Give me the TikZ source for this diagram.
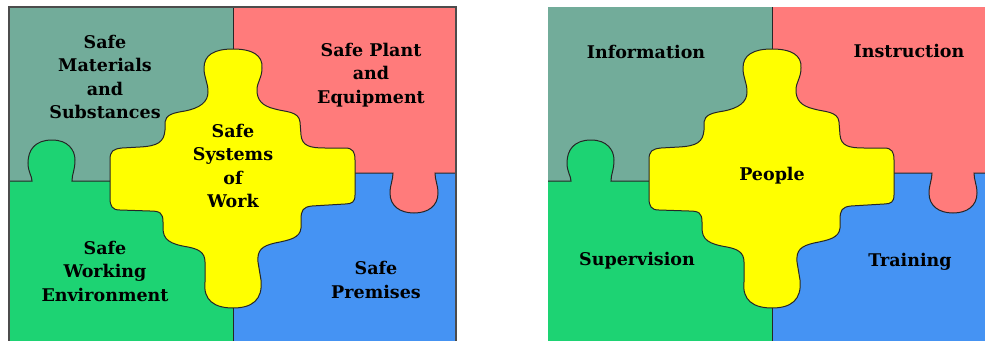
\documentclass[tikz,border=0pt]{standalone}
\usepackage{fontspec}
\setmainfont{DejaVu Serif}
\usepackage{tikz}
\usepackage{xcolor}

\definecolor{matgray}{RGB}{114,172,154}
\definecolor{plantpink}{RGB}{255,123,123}
\definecolor{envgreen}{RGB}{29,211,115}
\definecolor{premblue}{RGB}{69,147,243}
\definecolor{workyellow}{RGB}{255,255,0}

% one board of four pieces round the yellow cross
\newcommand{\jigsaw}{%
    \fill[matgray] (9,7) rectangle (233,181);
    \fill[plantpink] (233,7) rectangle (456,173);
    \fill[envgreen] (9,181) rectangle (233,341);
    \fill[premblue] (233,173) rectangle (456,341);
    \fill[envgreen] (32,182) .. controls (32,176) and (28,172) .. (28,163)
        .. controls (28,150) and (35,140) .. (52,140)
        .. controls (68,140) and (75,150) .. (75,160)
        .. controls (75,170) and (72,174) .. (72,182) -- cycle;
    \fill[plantpink] (393,172) .. controls (393,180) and (390,185) .. (390,193)
        .. controls (390,206) and (400,213) .. (414,213)
        .. controls (428,213) and (438,206) .. (438,193)
        .. controls (438,185) and (435,180) .. (435,172) -- cycle;
    \draw[seam] (9,181) -- (32,181) .. controls (32,176) and (28,172) .. (28,163)
        .. controls (28,150) and (35,140) .. (52,140)
        .. controls (68,140) and (75,150) .. (75,160)
        .. controls (75,170) and (72,174) .. (72,181) -- (233,181);
    \draw[seam] (233,173) -- (393,173) .. controls (393,180) and (390,185) .. (390,193)
        .. controls (390,206) and (400,213) .. (414,213)
        .. controls (428,213) and (438,206) .. (438,193)
        .. controls (438,185) and (435,180) .. (435,173) -- (456,173);
    \draw[seam] (233,7) -- (233,341);
    \filldraw[seam, fill=workyellow] (233,49) .. controls (252,49) and (263,55) .. (262,68)
        .. controls (262,78) and (257,82) .. (257,90)
        .. controls (257,100) and (262,106) .. (275,109)
        .. controls (285,112) and (299,111) .. (300,122)
        -- (301,135) .. controls (302,146) and (310,148) .. (325,148)
        -- (345,148) .. controls (353,148) and (355,152) .. (355,160)
        -- (355,195) .. controls (355,202) and (352,204) .. (345,204)
        -- (312,206) .. controls (303,207) and (301,210) .. (301,220)
        -- (301,228) .. controls (300,238) and (290,240) .. (275,243)
        .. controls (262,246) and (257,250) .. (258,262)
        -- (261,280) .. controls (263,300) and (252,308) .. (233,308)
        .. controls (214,308) and (203,300) .. (205,282)
        -- (205,262) .. controls (205,252) and (198,249) .. (188,247)
        .. controls (170,244) and (163,240) .. (163,228)
        -- (163,222) .. controls (163,213) and (160,211) .. (150,211)
        -- (120,210) .. controls (112,210) and (110,206) .. (110,198)
        -- (110,160) .. controls (110,151) and (113,149) .. (122,148)
        -- (140,147) .. controls (158,146) and (164,142) .. (165,130)
        -- (165,122) .. controls (166,115) and (172,113) .. (185,111)
        .. controls (200,108) and (208,102) .. (208,92)
        .. controls (208,82) and (204,78) .. (204,68)
        .. controls (204,55) and (214,49) .. (233,49) -- cycle;
}

\begin{document}
\begin{tikzpicture}[x=1pt, y=-1pt,
    seam/.style={draw=black!85, line width=1pt},
    piecetext/.style={font=\rmfamily\fontsize{17.5}{23.5}\selectfont\bfseries, align=center, inner sep=0pt}]
    \useasboundingbox (0,0) rectangle (985,340);

    % left board
    \begin{scope}
        \clip (0,0) rectangle (460,340);
        \jigsaw
        \draw[black!70, line width=2pt] (9,341) -- (9,7) -- (456,7) -- (456,341);
    \end{scope}

    % right board, cut at the right edge
    \begin{scope}[shift={(539,0)}]
        \clip (9,0) rectangle (446,340);
        \jigsaw
    \end{scope}

    \node[piecetext] (materials) at (105,77) {Safe\\Materials\\and\\Substances};
    \node[piecetext] (plant) at (371,75) {Safe Plant\\and\\Equipment};
    \node[piecetext] (systems) at (233,166) {Safe\\Systems\\of\\Work};
    \node[piecetext] (environment) at (105,271) {Safe\\Working\\Environment};
    \node[piecetext] (premises) at (376,280) {Safe\\Premises};

    \node[piecetext] (information) at (646,52) {Information};
    \node[piecetext] (instruction) at (909,51) {Instruction};
    \node[piecetext] (people) at (772,176) {People};
    \node[piecetext] (supervision) at (637,261) {Supervision};
    \node[piecetext] (training) at (910,262) {Training};
\end{tikzpicture}
\end{document}
